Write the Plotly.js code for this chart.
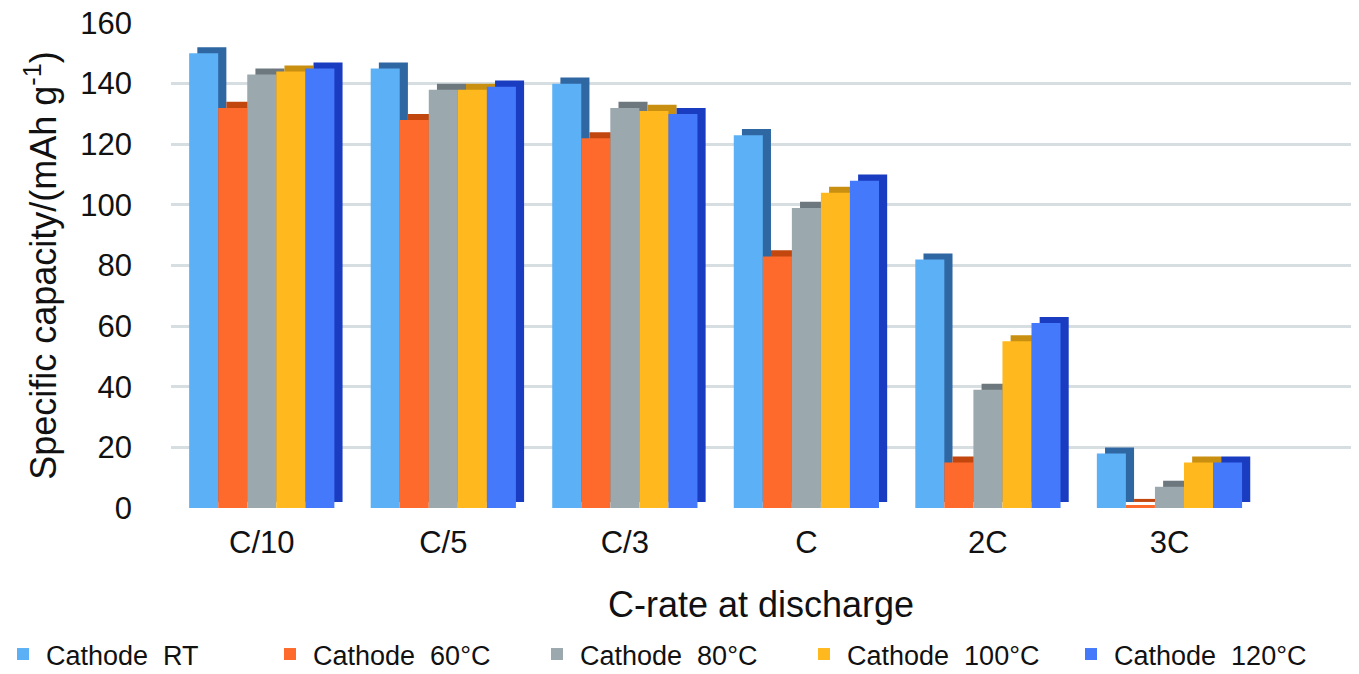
<!DOCTYPE html>
<html>
<head>
<meta charset="utf-8">
<script src="https://cdn.plot.ly/plotly-3.0.1.min.js"></script>
<style>html,body{margin:0;padding:0;background:#fff;}#chart{width:1359px;height:674px;}</style>
</head>
<body>
<div id="chart"></div>
<script>
// ---- data ----
const categories = ["C/10", "C/5", "C/3", "C", "2C", "3C"];
const seriesNames = ["Cathode\u00a0 RT", "Cathode\u00a0 60°C", "Cathode\u00a0 80°C", "Cathode\u00a0 100°C", "Cathode\u00a0 120°C"];
const cathodeRT   = [150, 145, 140, 123, 82, 18];
const cathode60C  = [132, 128, 122, 83, 15, 1];
const cathode80C  = [143, 138, 132, 99, 39, 7];
const cathode100C = [144, 138, 131, 104, 55, 15];
const cathode120C = [145, 139, 130, 108, 61, 15];
const yTicks = [0, 20, 40, 60, 80, 100, 120, 140, 160];

// ---- styles ----
const seriesValues = [cathodeRT, cathode60C, cathode80C, cathode100C, cathode120C];
const frontColors = ["#5cb0f5", "#fd6a2c", "#9ba8ae", "#ffb81e", "#4479fb"];
const sideColors  = ["#2f67a2", "#c2470f", "#6c787e", "#c98f10", "#1a3cc0"];
const barW = 0.16, depthX = 0.045, depthY = 2;

const traces = [];
// depth (side/top faces) first so front faces overlay them
seriesValues.forEach((vals, i) => {
  traces.push({
    type: "bar", x: categories, y: vals, base: depthY,
    offset: -0.4 + i * barW + depthX, width: barW,
    marker: {color: sideColors[i], line: {width: 0}},
    showlegend: false, hoverinfo: "skip"
  });
});
seriesValues.forEach((vals, i) => {
  traces.push({
    type: "bar", name: seriesNames[i], x: categories, y: vals,
    offset: -0.4 + i * barW, width: barW,
    marker: {color: frontColors[i], line: {width: 0}},
    hoverinfo: "x+y+name"
  });
});

const font = "'Liberation Sans', Arial, sans-serif";
const layout = {
  width: 1359, height: 674,
  margin: {l: 171, r: 8, t: 23, b: 166, autoexpand: false},
  paper_bgcolor: "#fff", plot_bgcolor: "#fff",
  barmode: "overlay",
  font: {family: font, color: "#111"},
  xaxis: {
    type: "category", range: [-0.5, 6.0],
    showgrid: false, zeroline: false, showline: false, ticks: "",
    tickfont: {size: 31, family: font, color: "#111"},
    ticklabelstandoff: 13,
    title: {text: "C-rate at discharge", font: {size: 36, family: font, color: "#111"}, standoff: 32}
  },
  yaxis: {
    range: [0, 160], tickvals: yTicks,
    showgrid: true, gridcolor: "#d6dee2", gridwidth: 3,
    zeroline: false, showline: false, ticks: "",
    tickfont: {size: 31, family: font, color: "#111"},
    ticklabelstandoff: 38,
    title: {text: "Specific capacity/(mAh g<sup>-1</sup>)", font: {size: 36, family: font, color: "#111"}, standoff: 12}
  },
  legend: {
    orientation: "h", xref: "paper", yref: "paper",
    x: -0.1449, xanchor: "left", y: -0.2515, yanchor: "top",
    font: {size: 27, family: font, color: "#111"},
    traceorder: "normal", itemwidth: 36,
    entrywidth: 216, entrywidthmode: "pixels"
  },
  showlegend: true
};

Plotly.newPlot("chart", traces, layout, {displayModeBar: false, staticPlot: true});
</script>
</body>
</html>
